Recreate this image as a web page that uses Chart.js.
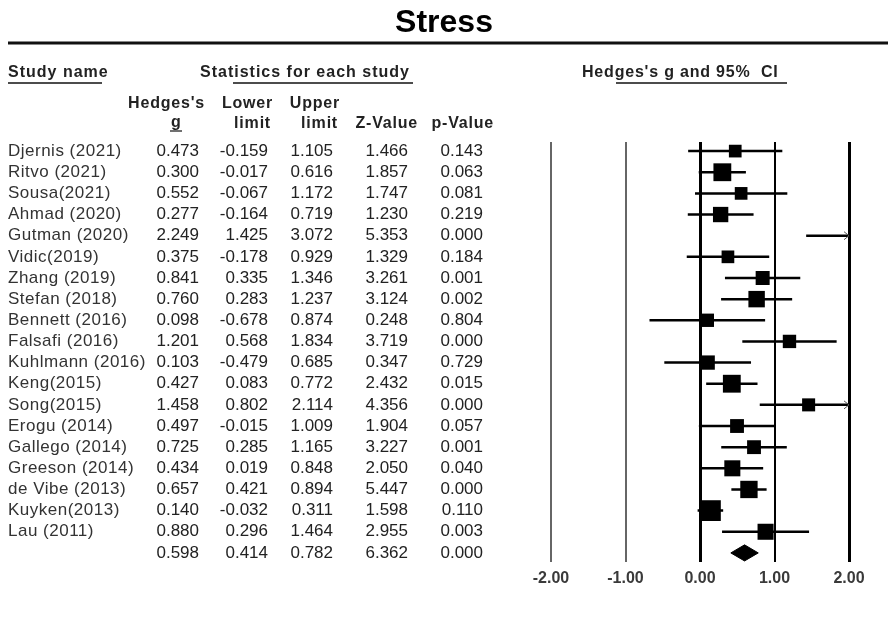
<!DOCTYPE html>
<html>
<head>
<meta charset="utf-8">
<script src="https://cdn.jsdelivr.net/npm/chart.js@4.4.0/dist/chart.umd.min.js"></script>
<style>
  html, body { margin: 0; padding: 0; background: #fff; }
  #wrap { width: 888px; height: 629px; position: relative; }
</style>
</head>
<body>
<div id="wrap"><canvas id="forest"></canvas></div>
<script>
// studies, top to bottom
const studies = ['Djernis (2021)', 'Ritvo (2021)', 'Sousa(2021)', 'Ahmad (2020)', 'Gutman (2020)',
  'Vidic(2019)', 'Zhang (2019)', 'Stefan (2018)', 'Bennett (2016)', 'Falsafi (2016)',
  'Kuhlmann (2016)', 'Keng(2015)', 'Song(2015)', 'Erogu (2014)', 'Gallego (2014)',
  'Greeson (2014)', 'de Vibe (2013)', 'Kuyken(2013)', 'Lau (2011)'];
const hedgesG = [0.473, 0.300, 0.552, 0.277, 2.249, 0.375, 0.841, 0.760, 0.098, 1.201,
  0.103, 0.427, 1.458, 0.497, 0.725, 0.434, 0.657, 0.140, 0.880];
const lowerLimit = [-0.159, -0.017, -0.067, -0.164, 1.425, -0.178, 0.335, 0.283, -0.678, 0.568,
  -0.479, 0.083, 0.802, -0.015, 0.285, 0.019, 0.421, -0.032, 0.296];
const upperLimit = [1.105, 0.616, 1.172, 0.719, 3.072, 0.929, 1.346, 1.237, 0.874, 1.834,
  0.685, 0.772, 2.114, 1.009, 1.165, 0.848, 0.894, 0.311, 1.464];
const zValue = [1.466, 1.857, 1.747, 1.230, 5.353, 1.329, 3.261, 3.124, 0.248, 3.719,
  0.347, 2.432, 4.356, 1.904, 3.227, 2.050, 5.447, 1.598, 2.955];
const pValue = [0.143, 0.063, 0.081, 0.219, 0.000, 0.184, 0.001, 0.002, 0.804, 0.000,
  0.729, 0.015, 0.000, 0.057, 0.001, 0.040, 0.000, 0.110, 0.003];
// relative weights (%)
const weights = [3.7, 7.3, 3.7, 5.4, 3.9, 3.7, 4.5, 6.2, 4.1, 4.1,
  4.7, 7.3, 3.9, 4.4, 4.4, 5.9, 6.9, 9.9, 5.9];
// pooled effect: g, lower, upper, Z, p
const pooled = [0.598, 0.414, 0.782, 6.362, 0.000];
const xTicks = [-2, -1, 0, 1, 2];

const n = studies.length;       // summary row sits at index n
const numFont = '17px "Liberation Sans", Arial, sans-serif';
const headFont = 'bold 16px "Liberation Sans", Arial, sans-serif';

// CI segments, broken by null points
const ciData = studies.flatMap((s, i) => [
  { x: lowerLimit[i], y: i }, { x: upperLimit[i], y: i }, { x: null, y: null }
]);
const boxData = studies.map((s, i) => ({ x: hedgesG[i], y: i }));
const diamondData = [
  { x: pooled[1], y: n }, { x: pooled[0], y: n - 0.38 },
  { x: pooled[2], y: n }, { x: pooled[0], y: n + 0.38 }, { x: pooled[1], y: n }
];

function txt(ctx, s, x, y, align, font, color, spacing) {
  ctx.font = font;
  ctx.fillStyle = color;
  ctx.textAlign = align;
  ctx.letterSpacing = spacing || '0px';
  ctx.fillText(s, x, y);
}

function hline(ctx, x1, x2, y, w) {
  ctx.beginPath();
  ctx.lineWidth = w;
  ctx.strokeStyle = '#111';
  ctx.moveTo(x1, y);
  ctx.lineTo(x2, y);
  ctx.stroke();
}

// table, headers and title around the plot
const tablePlugin = {
  id: 'studyTable',
  afterDraw(chart) {
    const { ctx } = chart;
    const ys = chart.scales.y;
    const xs = chart.scales.x;
    ctx.save();
    ctx.textBaseline = 'middle';

    txt(ctx, 'Stress', 444, 23, 'center', 'bold 32px "Liberation Sans", Arial, sans-serif', '#000');
    hline(ctx, 8, 888, 43, 3);

    txt(ctx, 'Study name', 8, 73, 'left', headFont, '#222', '1px');
    hline(ctx, 8, 102, 83, 1.5);
    txt(ctx, 'Statistics for each study', 200, 73, 'left', headFont, '#222', '1px');
    hline(ctx, 233, 413, 83, 1.5);
    txt(ctx, "Hedges's g and 95%  CI", 582, 73, 'left', headFont, '#222', '0.8px');
    hline(ctx, 616, 787, 83, 1.5);

    txt(ctx, "Hedges's", 205, 104, 'right', headFont, '#222', '0.8px');
    txt(ctx, 'g', 176, 123, 'center', headFont, '#222');
    hline(ctx, 170, 182, 131, 1.2);
    txt(ctx, 'Lower', 273, 104, 'right', headFont, '#222', '0.8px');
    txt(ctx, 'limit', 271, 124, 'right', headFont, '#222', '0.8px');
    txt(ctx, 'Upper', 340, 104, 'right', headFont, '#222', '0.8px');
    txt(ctx, 'limit', 338, 124, 'right', headFont, '#222', '0.8px');
    txt(ctx, 'Z-Value', 418, 124, 'right', headFont, '#222', '0.8px');
    txt(ctx, 'p-Value', 494, 124, 'right', headFont, '#222', '0.8px');

    const cols = [199, 268, 333, 408, 483];
    const row = (vals, py) => vals.forEach((v, k) =>
      txt(ctx, v.toFixed(3), cols[k], py, 'right', numFont, '#222'));

    studies.forEach((s, i) => {
      const py = ys.getPixelForValue(i);
      txt(ctx, s, 8, py, 'left', numFont, '#333', '0.5px');
      row([hedgesG[i], lowerLimit[i], upperLimit[i], zValue[i], pValue[i]], py);
    });
    row(pooled, ys.getPixelForValue(n));

    // arrow heads where the interval runs past the axis
    ctx.letterSpacing = '0px';
    ctx.strokeStyle = '#555';
    ctx.lineWidth = 1;
    upperLimit.forEach((u, i) => {
      if (u <= xs.max) return;
      const px = xs.getPixelForValue(xs.max);
      const py = ys.getPixelForValue(i);
      ctx.beginPath();
      ctx.moveTo(px - 5, py - 4);
      ctx.lineTo(px, py);
      ctx.lineTo(px - 5, py + 4);
      ctx.stroke();
    });
    ctx.restore();
  }
};

new Chart(document.getElementById('forest'), {
  type: 'scatter',
  data: {
    datasets: [
      {
        label: 'CI',
        data: ciData,
        showLine: true,
        borderColor: '#000',
        borderWidth: 2.5,
        pointRadius: 0,
        spanGaps: false
      },
      {
        label: "Hedges's g",
        data: boxData,
        pointStyle: 'rect',
        pointRadius: c => Math.sqrt(weights[c.dataIndex]) * 6.6 / Math.SQRT2,
        backgroundColor: '#000',
        borderWidth: 0
      },
      {
        label: 'Pooled',
        data: diamondData,
        showLine: true,
        fill: 'shape',
        backgroundColor: '#000',
        borderColor: '#000',
        borderWidth: 1,
        pointRadius: 0
      }
    ]
  },
  options: {
    responsive: true,
    maintainAspectRatio: false,
    animation: false,
    events: [],
    layout: { padding: { left: 551, right: 39, top: 142, bottom: 27 } },
    plugins: {
      legend: { display: false },
      tooltip: { enabled: false }
    },
    scales: {
      x: {
        type: 'linear',
        min: -2,
        max: 2,
        afterBuildTicks: s => { s.ticks = xTicks.map(v => ({ value: v })); },
        afterFit: s => { s.height = 40; },
        border: { display: false },
        grid: {
          drawTicks: false,
          lineWidth: c => (c.tick && (c.tick.value === 0 || c.tick.value === 2)) ? 3 : 2,
          color: c => (c.tick && c.tick.value < 0) ? '#666' : '#000'
        },
        ticks: {
          padding: 7,
          color: '#3a3a3a',
          font: { family: '"Liberation Sans", Arial, sans-serif', size: 16, weight: 'bold' },
          callback: v => v.toFixed(2)
        }
      },
      y: {
        type: 'linear',
        reverse: true,
        min: -0.43,
        max: n + 0.43,
        display: false
      }
    }
  },
  plugins: [tablePlugin]
});
</script>
</body>
</html>
